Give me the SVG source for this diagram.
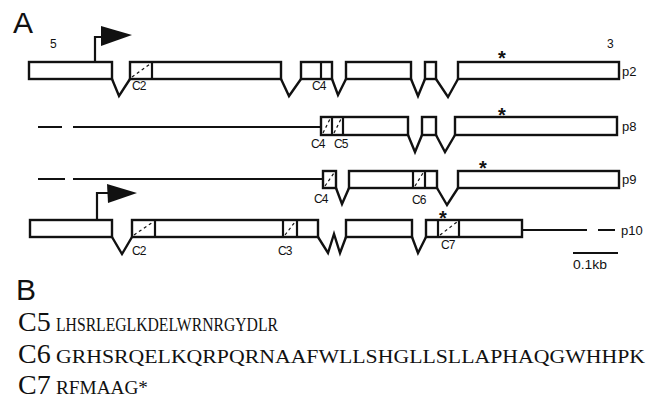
<svg xmlns="http://www.w3.org/2000/svg" width="658" height="414" viewBox="0 0 658 414">
  <style>
    .exon { fill: #fff; stroke: #111; stroke-width: 2.4; }
    .div { stroke: #111; stroke-width: 2.2; }
    .hatch { stroke: #111; stroke-width: 1.2; stroke-dasharray: 3 3; }
    .intron { fill: none; stroke: #111; stroke-width: 2.4; stroke-linejoin: miter; }
    .up { fill: none; stroke: #111; stroke-width: 2; }
    .tss { fill: none; stroke: #111; stroke-width: 2.2; }
    .flag { fill: #111; }
    .lbl { font-family: "Liberation Sans", Arial, sans-serif; font-size: 12px; fill: #111; letter-spacing: -1px; }
    .name { font-family: "Liberation Sans", Arial, sans-serif; font-size: 13px; fill: #111; }
    .end { font-family: "Liberation Sans", Arial, sans-serif; font-size: 12px; fill: #111; }
    .star { font-family: "Liberation Sans", Arial, sans-serif; font-size: 20px; font-weight: bold; fill: #111; text-anchor: middle; }
    .panel { font-family: "Liberation Sans", Arial, sans-serif; font-size: 30px; fill: #111; }
    .cx { font-family: "Liberation Serif", "Times New Roman", serif; font-size: 28px; fill: #111; }
    .seq { font-family: "Liberation Serif", "Times New Roman", serif; font-size: 18px; fill: #111; }
  </style>

  <text class="panel" x="13" y="33">A</text>

  <!-- introns, upstream regions and 3' tails -->
  <g id="connectors">
    <polyline class="intron" points="112,79 119,96 130,79"/>
    <polyline class="intron" points="281,79 289,96 301,79"/>
    <polyline class="intron" points="332,79 338,95 346,79"/>
    <polyline class="intron" points="411,79 418,96 425,79"/>
    <polyline class="intron" points="436,79 448,97 458,79"/>

    <line class="up" x1="38" y1="127" x2="62" y2="127"/>
    <line class="up" x1="73" y1="127" x2="321" y2="127"/>
    <polyline class="intron" points="408,135 415,152 422,135"/>
    <polyline class="intron" points="436,135 445,152 455,135"/>

    <line class="up" x1="38" y1="179" x2="65" y2="179"/>
    <line class="up" x1="73" y1="179" x2="323" y2="179"/>
    <polyline class="intron" points="336,188 342,204 349,188"/>
    <polyline class="intron" points="437,188 447,205 458,188"/>

    <polyline class="intron" points="112,237 122,254 132,237"/>
    <polyline class="intron" points="318,237 328,253 334,234 340,253 346,237"/>
    <polyline class="intron" points="412,237 418,253 426,237"/>
    <line class="up" x1="522" y1="230" x2="587" y2="230"/>
    <line class="up" x1="598" y1="230" x2="615" y2="230"/>
  </g>

  <g id="p2">
    <rect class="exon" x="29" y="62" width="83" height="17"/>
    <rect class="exon" x="130" y="62" width="151" height="17"/>
    <line class="div" x1="152" y1="62" x2="152" y2="79"/>
    <line class="hatch" x1="132" y1="77" x2="150" y2="64"/>
    <rect class="exon" x="301" y="62" width="31" height="17"/>
    <line class="div" x1="321" y1="62" x2="321" y2="79"/>
    <rect class="exon" x="346" y="62" width="65" height="17"/>
    <rect class="exon" x="425" y="62" width="11" height="17"/>
    <rect class="exon" x="458" y="62" width="161" height="17"/>
    <polyline class="tss" points="95,62 95,37 102,37"/>
    <polygon class="flag" points="101,26 132,35 101,46"/>
    <text class="end" x="50" y="48">5</text>
    <text class="end" x="607" y="48">3</text>
    <text class="lbl" x="132" y="90">C2</text>
    <text class="lbl" x="312" y="90">C4</text>
    <text class="star" x="502" y="65">*</text>
    <text class="name" x="622" y="76">p2</text>
  </g>

  <g id="p8">
    <rect class="exon" x="321" y="117" width="87" height="18"/>
    <line class="div" x1="332" y1="117" x2="332" y2="135"/>
    <line class="div" x1="343" y1="117" x2="343" y2="135"/>
    <line class="hatch" x1="323" y1="133" x2="330" y2="119"/>
    <line class="hatch" x1="334" y1="133" x2="341" y2="119"/>
    <rect class="exon" x="422" y="117" width="14" height="18"/>
    <rect class="exon" x="455" y="117" width="162" height="18"/>
    <text class="lbl" x="311" y="148">C4</text>
    <text class="lbl" x="334" y="148">C5</text>
    <text class="star" x="502" y="122">*</text>
    <text class="name" x="622" y="131">p8</text>
  </g>

  <g id="p9">
    <rect class="exon" x="323" y="171" width="13" height="17"/>
    <line class="hatch" x1="325" y1="186" x2="334" y2="173"/>
    <rect class="exon" x="349" y="171" width="88" height="17"/>
    <line class="div" x1="413" y1="171" x2="413" y2="188"/>
    <line class="div" x1="425" y1="171" x2="425" y2="188"/>
    <line class="hatch" x1="415" y1="186" x2="423" y2="173"/>
    <rect class="exon" x="458" y="171" width="161" height="17"/>
    <text class="lbl" x="314" y="203">C4</text>
    <text class="lbl" x="412" y="204">C6</text>
    <text class="star" x="483" y="175">*</text>
    <text class="name" x="622" y="184">p9</text>
  </g>

  <g id="p10">
    <rect class="exon" x="30" y="220" width="82" height="17"/>
    <rect class="exon" x="132" y="220" width="186" height="17"/>
    <line class="div" x1="155" y1="220" x2="155" y2="237"/>
    <line class="div" x1="283" y1="220" x2="283" y2="237"/>
    <line class="div" x1="297" y1="220" x2="297" y2="237"/>
    <line class="hatch" x1="134" y1="235" x2="153" y2="222"/>
    <line class="hatch" x1="285" y1="235" x2="295" y2="222"/>
    <rect class="exon" x="346" y="220" width="66" height="17"/>
    <rect class="exon" x="426" y="220" width="96" height="17"/>
    <line class="div" x1="438" y1="220" x2="438" y2="237"/>
    <line class="div" x1="459" y1="220" x2="459" y2="237"/>
    <line class="hatch" x1="440" y1="235" x2="457" y2="222"/>
    <polyline class="tss" points="97,220 97,193 108,193"/>
    <polygon class="flag" points="107,184 137,193 108,203"/>
    <text class="lbl" x="132" y="255">C2</text>
    <text class="lbl" x="278" y="255">C3</text>
    <text class="lbl" x="441" y="249">C7</text>
    <text class="star" x="443" y="225">*</text>
    <text class="name" x="621" y="235">p10</text>
  </g>

  <g id="scale">
    <line class="up" x1="573" y1="253" x2="618" y2="253"/>
    <text class="end" x="573" y="269" textLength="34" lengthAdjust="spacingAndGlyphs">0.1kb</text>
  </g>

  <text class="panel" x="16" y="300">B</text>
  <g id="sequences">
    <text class="cx" x="18" y="331">C5</text>
    <text class="seq" x="56" y="331" textLength="222" lengthAdjust="spacingAndGlyphs">LHSRLEGLKDELWRNRGYDLR</text>
    <text class="cx" x="18" y="363">C6</text>
    <text class="seq" x="56" y="363" textLength="589" lengthAdjust="spacingAndGlyphs">GRHSRQELKQRPQRNAAFWLLSHGLLSLLAPHAQGWHHPK</text>
    <text class="cx" x="18" y="394">C7</text>
    <text class="seq" x="56" y="394" textLength="92" lengthAdjust="spacingAndGlyphs">RFMAAG*</text>
  </g>
</svg>
